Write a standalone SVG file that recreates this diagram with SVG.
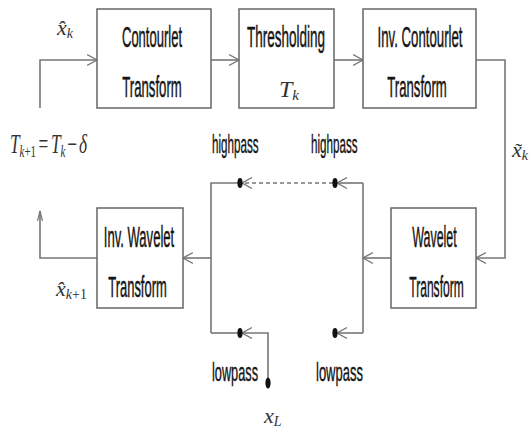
<svg xmlns="http://www.w3.org/2000/svg" width="529" height="430" viewBox="0 0 529 430">
<style>
.box{fill:#fff;stroke:#666;stroke-width:1.5}
.lbl{font-family:"Liberation Sans",Arial,sans-serif;font-size:30px;fill:#151515;stroke:#151515;stroke-width:0.5;text-anchor:middle}
.side{font-family:"Liberation Sans",Arial,sans-serif;font-size:25px;fill:#151515;stroke:#151515;stroke-width:0.4}
.m{font-family:"Liberation Serif","Times New Roman",serif;font-style:italic;fill:#333}
.up{font-style:normal}
.ln{fill:none;stroke:#777;stroke-width:1.6}
.dash{stroke-dasharray:4 3}
.dot{fill:#111}
</style>
<defs>
<marker id="arr" markerUnits="userSpaceOnUse" markerWidth="12" markerHeight="14" refX="10" refY="6" orient="auto" viewBox="0 0 12 12">
<path d="M0,0.5 L10,6 L0,11.5" fill="none" stroke="#777" stroke-width="1.4"/>
</marker>
<marker id="arrV" markerUnits="userSpaceOnUse" markerWidth="12" markerHeight="8" refX="10" refY="3" orient="auto" viewBox="0 0 12 6">
<path d="M0,0.5 L10,3 L0,5.5" fill="none" stroke="#777" stroke-width="1.2"/>
</marker>
</defs>

<g id="connectors">
<path class="ln" d="M40,108 V60 H97" marker-end="url(#arr)"/>
<path class="ln" d="M211,60 H239" marker-end="url(#arr)"/>
<path class="ln" d="M334,60 H363" marker-end="url(#arr)"/>
<path class="ln" d="M476,60 H505 V258 H476" marker-end="url(#arr)"/>
<path class="ln" d="M391,258 H363" marker-end="url(#arr)"/>
<path class="ln" d="M363,183 V333"/>
<path class="ln" d="M363,183 H337" marker-end="url(#arr)"/>
<path class="ln" d="M363,333 H337" marker-end="url(#arr)"/>
<path class="ln dash" d="M333,183 H242" marker-end="url(#arr)"/>
<path class="ln" d="M211,333 V183 H239"/>
<path class="ln" d="M211,333 H239"/>
<path class="ln" d="M268,383 V333 H242" marker-end="url(#arr)"/>
<path class="ln" d="M211,258 H183" marker-end="url(#arr)"/>
<path class="ln" d="M97,258 H40 V211" marker-end="url(#arrV)"/>
</g>

<g id="dots">
<ellipse class="dot" cx="240" cy="183" rx="2.6" ry="5"/>
<ellipse class="dot" cx="335" cy="183" rx="2.6" ry="5"/>
<ellipse class="dot" cx="240" cy="333" rx="2.6" ry="5"/>
<ellipse class="dot" cx="335" cy="333" rx="2.6" ry="5"/>
<ellipse class="dot" cx="268" cy="383" rx="2.6" ry="5.5"/>
</g>

<g id="contourlet">
<rect class="box" x="97" y="9" width="114" height="99"/>
<text class="lbl" transform="translate(152,47) scale(0.434,1)">Contourlet</text>
<text class="lbl" transform="translate(152,97) scale(0.439,1)">Transform</text>
</g>

<g id="thresholding">
<rect class="box" x="239" y="9" width="95" height="99"/>
<text class="lbl" transform="translate(286,47) scale(0.45,1)">Thresholding</text>
<text class="m" x="279" y="97" font-size="24">T<tspan font-size="15" dy="3">k</tspan></text>
</g>

<g id="invcontourlet">
<rect class="box" x="363" y="9" width="113" height="99"/>
<text class="lbl" transform="translate(420,47) scale(0.441,1)">Inv. Contourlet</text>
<text class="lbl" transform="translate(417,97) scale(0.439,1)">Transform</text>
</g>

<g id="wavelet">
<rect class="box" x="391" y="208" width="85" height="100"/>
<text class="lbl" transform="translate(434.5,247) scale(0.415,1)">Wavelet</text>
<text class="lbl" transform="translate(436.5,297) scale(0.402,1)">Transform</text>
</g>

<g id="invwavelet">
<rect class="box" x="97" y="208" width="86" height="100"/>
<text class="lbl" transform="translate(139,247) scale(0.436,1)">Inv. Wavelet</text>
<text class="lbl" transform="translate(137.5,297) scale(0.432,1)">Transform</text>
</g>

<g id="labels">
<text class="side" transform="translate(212,153) scale(0.465,1)">highpass</text>
<text class="side" transform="translate(311,153) scale(0.465,1)">highpass</text>
<text class="side" transform="translate(212,381) scale(0.51,1)">lowpass</text>
<text class="side" transform="translate(316,381) scale(0.52,1)">lowpass</text>
<text class="m" x="57" y="35" font-size="22">x̂<tspan font-size="14" dy="3">k</tspan></text>
<text class="m" x="512" y="157" font-size="22">x̃<tspan font-size="14" dy="3">k</tspan></text>
<text class="m" x="56" y="296" font-size="22">x̂<tspan font-size="14" dy="3">k<tspan class="up">+1</tspan></tspan></text>
<text class="m" x="264" y="423" font-size="22">x<tspan font-size="14" dy="3">L</tspan></text>
<text class="m" font-size="27" transform="translate(10,153) scale(0.64,1)">T<tspan font-size="17" dy="4">k<tspan class="up">+1</tspan></tspan><tspan class="up" dy="-4" dx="4">=</tspan><tspan dx="4">T</tspan><tspan font-size="17" dy="4">k</tspan><tspan class="up" dy="-4" dx="3">−</tspan><tspan dx="3">δ</tspan></text>
</g>
</svg>
